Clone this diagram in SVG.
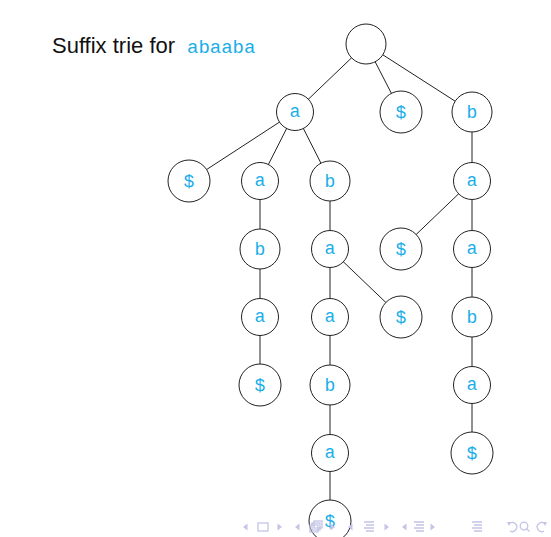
<svg xmlns="http://www.w3.org/2000/svg" width="551" height="537" viewBox="0 0 551 537">
<style>
.edge{stroke:#222;stroke-width:1;fill:none}
.n{fill:#fff;stroke:#222;stroke-width:1}
.l{font-family:"Liberation Mono","DejaVu Sans Mono",monospace;font-size:18px;fill:#1aaeea;text-anchor:middle}
.title{font-family:"Liberation Sans","DejaVu Sans",sans-serif;font-size:22px;fill:#111}
.tt{font-family:"Liberation Mono","DejaVu Sans Mono",monospace;font-size:19px;fill:#1aaeea}
.nav{fill:#c4c4e6;stroke:none}
.navs{fill:none;stroke:#c4c4e6;stroke-width:1.3}
</style>
<rect width="551" height="537" fill="#fff"/>
<text class="title" x="52" y="53">Suffix trie for <tspan class="tt" x="187">abaaba</tspan></text>
<g id="connectors">
<line class="edge" x1="366" y1="44" x2="295" y2="112"/>
<line class="edge" x1="366" y1="44" x2="401" y2="112"/>
<line class="edge" x1="366" y1="44" x2="472" y2="112"/>
<line class="edge" x1="295" y1="112" x2="189" y2="181"/>
<line class="edge" x1="295" y1="112" x2="260" y2="181"/>
<line class="edge" x1="295" y1="112" x2="330" y2="181"/>
<line class="edge" x1="472" y1="112" x2="472" y2="181"/>
<line class="edge" x1="472" y1="181" x2="401" y2="249"/>
<line class="edge" x1="472" y1="181" x2="472" y2="453"/>
<line class="edge" x1="260" y1="181" x2="260" y2="385"/>
<line class="edge" x1="330" y1="181" x2="330" y2="521"/>
<line class="edge" x1="330" y1="249" x2="401" y2="317"/>
</g>
<g id="root"><circle class="n" cx="366" cy="44" r="20"/></g>
<g id="n_a"><circle class="n" cx="295" cy="112" r="18.5"/><text class="l" x="295" y="117">a</text></g>
<g id="n_dollar"><circle class="n" cx="401" cy="112" r="21"/><text class="l" x="401" y="118">$</text></g>
<g id="n_b"><circle class="n" cx="472" cy="112" r="20"/><text class="l" x="472" y="118">b</text></g>
<g id="n_a_dollar"><circle class="n" cx="189" cy="181" r="21"/><text class="l" x="189" y="187">$</text></g>
<g id="n_aa"><circle class="n" cx="260" cy="181" r="18.5"/><text class="l" x="260" y="186">a</text></g>
<g id="n_ab"><circle class="n" cx="330" cy="181" r="20"/><text class="l" x="330" y="187">b</text></g>
<g id="n_ba"><circle class="n" cx="472" cy="181" r="18.5"/><text class="l" x="472" y="186">a</text></g>
<g id="n_aab"><circle class="n" cx="260" cy="249" r="20"/><text class="l" x="260" y="255">b</text></g>
<g id="n_aba"><circle class="n" cx="330" cy="249" r="18.5"/><text class="l" x="330" y="254">a</text></g>
<g id="n_ba_dollar"><circle class="n" cx="401" cy="249" r="21"/><text class="l" x="401" y="255">$</text></g>
<g id="n_baa"><circle class="n" cx="472" cy="249" r="18.5"/><text class="l" x="472" y="254">a</text></g>
<g id="n_aaba"><circle class="n" cx="260" cy="317" r="18.5"/><text class="l" x="260" y="322">a</text></g>
<g id="n_abaa"><circle class="n" cx="330" cy="317" r="18.5"/><text class="l" x="330" y="322">a</text></g>
<g id="n_aba_dollar"><circle class="n" cx="401" cy="317" r="21"/><text class="l" x="401" y="323">$</text></g>
<g id="n_baab"><circle class="n" cx="472" cy="317" r="20"/><text class="l" x="472" y="323">b</text></g>
<g id="n_aaba_dollar"><circle class="n" cx="260" cy="385" r="21"/><text class="l" x="260" y="391">$</text></g>
<g id="n_abaab"><circle class="n" cx="330" cy="385" r="20"/><text class="l" x="330" y="391">b</text></g>
<g id="n_baaba"><circle class="n" cx="472" cy="385" r="18.5"/><text class="l" x="472" y="390">a</text></g>
<g id="n_abaaba"><circle class="n" cx="330" cy="453" r="18.5"/><text class="l" x="330" y="458">a</text></g>
<g id="n_baaba_dollar"><circle class="n" cx="472" cy="453" r="21"/><text class="l" x="472" y="459">$</text></g>
<g id="n_abaaba_dollar"><circle class="n" cx="330" cy="521" r="21"/><text class="l" x="330" y="527">$</text></g>
<g id="navigation">
<polygon class="nav" points="243,527 247.5,523.5 247.5,530.5"/>
<rect class="navs" x="258" y="523" width="10" height="8"/>
<polygon class="nav" points="282,527 277.5,523.5 277.5,530.5"/>
<polygon class="nav" points="295,527 299.5,523.5 299.5,530.5"/>
<rect class="navs" x="310" y="525" width="8" height="7"/>
<rect class="navs" x="312" y="523" width="8" height="7"/>
<rect class="navs" x="314" y="521" width="8" height="7"/>
<polygon class="nav" points="335,527 330.5,523.5 330.5,530.5"/>
<polygon class="nav" points="348,527 352.5,523.5 352.5,530.5"/>
<path class="navs" d="M364,522h10M366,525h8M364,528h10M366,531h8"/>
<polygon class="nav" points="389,527 384.5,523.5 384.5,530.5"/>
<polygon class="nav" points="402,527 406.5,523.5 406.5,530.5"/>
<path class="navs" d="M414,522h10M416,525h8M414,528h10M416,531h8"/>
<polygon class="nav" points="435,527 430.5,523.5 430.5,530.5"/>
<path class="navs" d="M472,522h10M474,525h8M472,528h10M474,531h8"/>
<path class="navs" d="M509,524 a4.5,4.5 0 1 1 1,7"/>
<polygon class="nav" points="507,522 511,522 509,526"/>
<circle class="navs" cx="524" cy="526" r="3.8"/>
<path class="navs" d="M526.5,528.5 l3,3"/>
<path class="navs" d="M545,524 a4.5,4.5 0 1 0 -1,7"/>
<polygon class="nav" points="543,522 547,522 545,526"/>
</g>
</svg>
